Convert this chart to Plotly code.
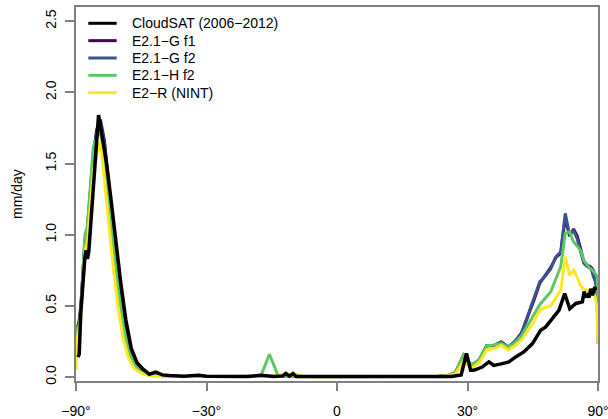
import numpy as np
import plotly.graph_objects as go

# ---------------- data ----------------
# model latitude grid (degrees), 2-degree cells
LAT_MODEL = [-89, -87, -85, -83, -81, -79, -77, -75, -73, -71,
             -69, -67, -65, -63, -61, -59, -57, -55, -53, -51,
             -49, -47, -45, -43, -41, -39, -37, -35, -33, -31,
             -29, -27, -25, -23, -21, -19, -17, -15, -13, -11,
             -9, -7, -5, -3, -1, 1, 3, 5, 7, 9,
             11, 13, 15, 17, 19, 21, 23, 25, 27, 29,
             31, 33, 35, 37, 39, 41, 43, 45, 47, 49,
             51, 53, 55, 57, 59, 61, 63, 65, 67, 69,
             71, 73, 75, 77, 79, 81, 83, 85, 87, 89]

E21_G_F1 = [0.26, 0.31, 0.34, 0.36, 0.40, 0.50, 0.74, 0.96, 1.04, 1.30,
            1.57, 1.74, 1.81, 1.66, 1.34, 1.04, 0.73, 0.46, 0.25, 0.12,
            0.06, 0.03, 0.015, 0.01, 0.008, 0.006, 0.005, 0.004, 0.004, 0.003,
            0.003, 0.003, 0.003, 0.003, 0.003, 0.003, 0.003, 0.003, 0.003, 0.003,
            0.002, 0.002, 0.002, 0.002, 0.002, 0.002, 0.002, 0.002, 0.002, 0.002,
            0.002, 0.002, 0.002, 0.002, 0.002, 0.003, 0.005, 0.01, 0.03, 0.15,
            0.08, 0.12, 0.22, 0.22, 0.245, 0.21, 0.25, 0.31, 0.42, 0.54,
            0.66, 0.72, 0.77, 0.84, 0.87, 1.12, 0.99, 1.04, 0.99, 0.90,
            0.81, 0.79, 0.78, 0.77, 0.75, 0.72, 0.68, 0.62, 0.50, 0.30]

E21_G_F2 = [0.25, 0.30, 0.33, 0.35, 0.38, 0.48, 0.72, 0.95, 1.03, 1.28,
            1.55, 1.72, 1.79, 1.64, 1.32, 1.02, 0.72, 0.45, 0.24, 0.12,
            0.06, 0.03, 0.015, 0.01, 0.008, 0.006, 0.005, 0.004, 0.004, 0.003,
            0.003, 0.003, 0.003, 0.003, 0.003, 0.003, 0.003, 0.003, 0.003, 0.003,
            0.002, 0.002, 0.002, 0.002, 0.002, 0.002, 0.002, 0.002, 0.002, 0.002,
            0.002, 0.002, 0.002, 0.002, 0.002, 0.003, 0.005, 0.01, 0.03, 0.153,
            0.082, 0.12, 0.22, 0.223, 0.247, 0.211, 0.25, 0.31, 0.43, 0.55,
            0.67, 0.71, 0.76, 0.845, 0.88, 1.15, 1.00, 1.03, 0.97, 0.88,
            0.80, 0.78, 0.77, 0.76, 0.71, 0.68, 0.64, 0.55, 0.40, 0.235]

E21_H_F2 = [0.28, 0.33, 0.34, 0.35, 0.36, 0.45, 0.72, 1.00, 1.06, 1.35,
            1.62, 1.68, 1.73, 1.50, 1.24, 0.92, 0.62, 0.36, 0.18, 0.09,
            0.04, 0.02, 0.01, 0.008, 0.006, 0.005, 0.004, 0.004, 0.003, 0.003,
            0.003, 0.003, 0.003, 0.003, 0.003, 0.004, 0.005, 0.16, 0.005, 0.003,
            0.002, 0.002, 0.002, 0.002, 0.002, 0.002, 0.002, 0.002, 0.002, 0.002,
            0.002, 0.002, 0.002, 0.002, 0.002, 0.003, 0.005, 0.01, 0.03, 0.155,
            0.085, 0.12, 0.22, 0.225, 0.235, 0.211, 0.24, 0.29, 0.37, 0.44,
            0.51, 0.56, 0.60, 0.69, 0.775, 1.01, 1.02, 0.95, 0.92, 0.89,
            0.82, 0.79, 0.77, 0.76, 0.74, 0.73, 0.72, 0.70, 0.62, 0.55]

E2_R_NINT = [0.05, 0.15, 0.25, 0.30, 0.33, 0.42, 0.65, 0.88, 0.95, 1.20,
             1.45, 1.56, 1.66, 1.38, 1.06, 0.77, 0.49, 0.27, 0.13, 0.06,
             0.03, 0.015, 0.008, 0.005, 0.004, 0.003, 0.003, 0.003, 0.003, 0.003,
             0.003, 0.003, 0.003, 0.003, 0.003, 0.003, 0.003, 0.003, 0.01, 0.02,
             0.02, 0.003, 0.002, 0.002, 0.002, 0.002, 0.002, 0.002, 0.002, 0.002,
             0.002, 0.002, 0.002, 0.002, 0.002, 0.003, 0.005, 0.01, 0.02, 0.11,
             0.06, 0.10, 0.19, 0.20, 0.223, 0.19, 0.22, 0.26, 0.33, 0.39,
             0.47, 0.49, 0.50, 0.56, 0.61, 0.845, 0.716, 0.75, 0.70, 0.64,
             0.62, 0.61, 0.61, 0.61, 0.60, 0.57, 0.54, 0.46, 0.35, 0.235]

# CloudSAT observations (2006-2012), limited to about +-82 degrees
LAT_OBS = [-83, -81, -79, -77, -75, -74, -73, -72, -70, -68,
           -66, -64, -62, -60, -58, -56, -54, -52, -50, -48,
           -46, -44, -42, -40, -36, -32, -30, -26, -20, -17,
           -14, -12, -11.3, -10.5, -9.7, -9, -4, 0, 10, 20,
           26, 28.4, 29.75, 30.8, 31.6, 33.8, 35.6, 36.9, 39.3, 41.2,
           43.2, 44.7, 45.7, 48.5, 51.3, 53.1, 55.6, 58.3, 60.75, 63.1,
           66.2, 68.5, 70.1, 71.2, 72.5, 73.7, 75, 76.5, 78.2, 79.5,
           81, 82]
CLOUDSAT = [0.14, 0.16, 0.45, 0.64, 0.84, 0.89, 0.83, 0.88, 1.16, 1.49,
            1.84, 1.68, 1.50, 1.25, 0.95, 0.67, 0.40, 0.20, 0.10, 0.055,
            0.02, 0.035, 0.015, 0.01, 0.006, 0.012, 0.005, 0.004, 0.004, 0.012,
            0.004, 0.008, 0.025, 0.006, 0.025, 0.004, 0.003, 0.003, 0.003, 0.003,
            0.004, 0.015, 0.165, 0.047, 0.047, 0.07, 0.106, 0.082, 0.094, 0.106,
            0.141, 0.165, 0.176, 0.235, 0.329, 0.352, 0.411, 0.47, 0.587, 0.48,
            0.517, 0.52, 0.528, 0.60, 0.56, 0.575, 0.56, 0.62, 0.575, 0.60,
            0.634, 0.61]

SERIES = [  # (name, latitudes, values, colour, width, legend position)
    ("E2.1\u2212G f1", LAT_MODEL, E21_G_F1, "#440154", 3, 1),
    ("E2.1\u2212G f2", LAT_MODEL, E21_G_F2, "#3B528B", 3, 2),
    ("E2.1\u2212H f2", LAT_MODEL, E21_H_F2, "#5DC863", 3, 3),
    ("E2\u2212R (NINT)", LAT_MODEL, E2_R_NINT, "#FDE725", 3, 4),
    ("CloudSAT (2006\u22122012)", LAT_OBS, CLOUDSAT, "#000000", 3.5, 0),
]

X_TICK_LAT = [-90, -30, 0, 30, 90]
X_TICK_TEXT = ["\u221290\u00b0", "\u221230\u00b0", "0", "30\u00b0", "90\u00b0"]
Y_TICKS = [0, 0.5, 1.0, 1.5, 2.0, 2.5]
Y_TICK_TEXT = ["0.0", "0.5", "1.0", "1.5", "2.0", "2.5"]

FONT = "Liberation Sans, Arial, Helvetica, sans-serif"
GREY = "#808080"

W, H = 608, 419
ML, MR, MT, MB = 76, 10, 7, 38
PW, PH = W - ML - MR, H - MT - MB


def sin_lat(lat):
    # area-weighted (sine of latitude) horizontal axis
    return np.sin(np.radians(np.asarray(lat, dtype=float)))


def px_x(px):
    return (px - ML) / PW


def px_y(py):
    return 1 - (py - MT) / PH


fig = go.Figure()
shapes, annotations = [], []
for name, lat, vals, col, w, pos in SERIES:
    fig.add_trace(go.Scatter(
        x=sin_lat(lat), y=vals, mode="lines", name=name,
        line=dict(color=col, width=w), showlegend=False,
    ))
    # legend entry (R style, no box)
    ly = 23.3 + 17.35 * pos
    shapes.append(dict(type="line", xref="paper", yref="paper",
                       x0=px_x(88.3), x1=px_x(116.7), y0=px_y(ly), y1=px_y(ly),
                       line=dict(color=col, width=3)))
    annotations.append(dict(text=name, xref="paper", yref="paper",
                            x=px_x(129.5), y=px_y(ly), xanchor="left",
                            yanchor="middle", showarrow=False,
                            font=dict(family=FONT, size=14, color="black")))

annotations.append(dict(text="mm/day", x=0, xref="paper", y=0.5, yref="paper",
                        xanchor="center", yanchor="middle", xshift=-59,
                        textangle=-90, showarrow=False,
                        font=dict(family=FONT, size=14, color="black")))

fig.update_layout(
    width=W, height=H,
    margin=dict(l=ML, r=MR, t=MT, b=MB, autoexpand=False),
    paper_bgcolor="white", plot_bgcolor="white",
    font=dict(family=FONT, size=14, color="black"),
    showlegend=False,
    xaxis=dict(range=[-1, 1], showgrid=False, zeroline=False,
               showline=True, mirror=True, linecolor=GREY, linewidth=1.5,
               ticks="outside", ticklen=8, tickwidth=1.5, tickcolor=GREY,
               tickvals=list(sin_lat(X_TICK_LAT)), ticktext=X_TICK_TEXT,
               ticklabelstandoff=8, ticklabeloverflow="allow",
               tickfont=dict(family=FONT, size=14, color="black")),
    yaxis=dict(range=[-0.028, 2.60], showgrid=False, zeroline=False,
               showline=True, mirror=True, linecolor=GREY, linewidth=1.5,
               ticks="outside", ticklen=9, tickwidth=1.5, tickcolor=GREY,
               tickvals=Y_TICKS, ticktext=Y_TICK_TEXT, tickangle=-90,
               ticklabelstandoff=4, ticklabeloverflow="allow",
               tickfont=dict(family=FONT, size=14, color="black")),
    shapes=shapes,
    annotations=annotations,
)

fig.write_html("out.html",
               config={"displayModeBar": False},
               post_script="document.body.style.margin='0px';"
                           "document.body.style.padding='0px';")
